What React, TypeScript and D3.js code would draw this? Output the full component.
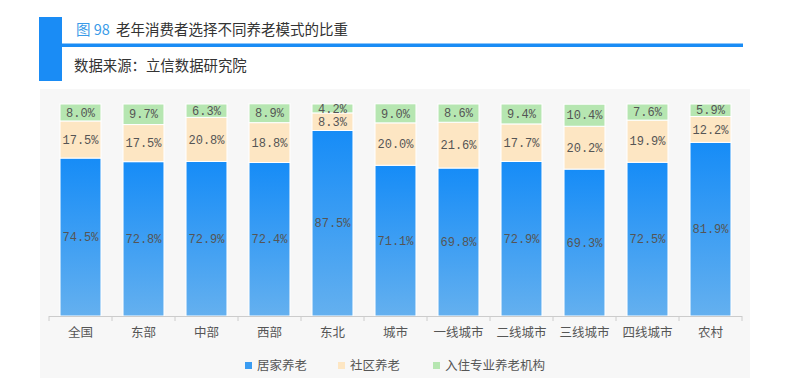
import React from "react";
import * as d3 from "d3";

const categories = ["全国", "东部", "中部", "西部", "东北", "城市", "一线城市", "二线城市", "三线城市", "四线城市", "农村"];
const homeCare = [74.5, 72.8, 72.9, 72.4, 87.5, 71.1, 69.8, 72.9, 69.3, 72.5, 81.9];
const communityCare = [17.5, 17.5, 20.8, 18.8, 8.3, 20.0, 21.6, 17.7, 20.2, 19.9, 12.2];
const institutionCare = [8.0, 9.7, 6.3, 8.9, 4.2, 9.0, 8.6, 9.4, 10.4, 7.6, 5.9];
const seriesNames = ["居家养老", "社区养老", "入住专业养老机构"];
const yTicks = [0, 100];

const W = 812, H = 388;
const labelFont = "'Liberation Mono', 'Noto Sans CJK SC', monospace";
const cjkFont = "'Noto Sans CJK SC', sans-serif";

export default function App() {
  const x = d3.scaleBand<string>().domain(categories).range([49, 742]).paddingInner(0.35).paddingOuter(0.175);
  const y = d3.scaleLinear().domain([yTicks[0], yTicks[1]]).range([316, 104]);
  const series = [homeCare, communityCare, institutionCare];
  const fills = ["url(#blueGrad)", "#fde6c3", "#b6e6b1"];

  const segs: any[] = [];
  categories.forEach((c, i) => {
    let acc = 0;
    series.forEach((s, k) => {
      const v = s[i];
      segs.push({ c, k, v, y0: acc, y1: acc + v });
      acc += v;
    });
  });

  const legendX = [245, 338, 433];

  return (
    <svg width={W} height={H} style={{ position: "absolute", left: 0, top: 0, background: "#fff" }}>
      <defs>
        <linearGradient id="blueGrad" x1="0" y1="0" x2="0" y2="1">
          <stop offset="0%" stopColor="#168cf7" />
          <stop offset="100%" stopColor="#64b0ef" />
        </linearGradient>
      </defs>
      {/* header */}
      <rect x={39} y={17} width={23} height={64} fill="#1a8cf5" />
      <rect x={62} y={43.5} width={681} height={3.5} fill="#1a8cf5" />
      <text x={76} y={35} fontFamily={cjkFont} fontSize={14.5} fill="#3a9be8">图 98</text>
      <text x={116} y={35} fontFamily={cjkFont} fontSize={14.5} fill="#333">老年消费者选择不同养老模式的比重</text>
      <text x={74} y={71} fontFamily={cjkFont} fontSize={14.4} fill="#333">数据来源：立信数据研究院</text>
      {/* plot background */}
      <rect x={40} y={89} width={710} height={289} fill="#f7f7f7" />
      {segs.map((d, i) => (
        <g key={i}>
          <rect x={x(d.c)} y={y(d.y1)} width={x.bandwidth()} height={y(d.y0) - y(d.y1)} fill={fills[d.k]} stroke="#fff" strokeWidth={1} />
          <text x={(x(d.c) as number) + x.bandwidth() / 2} y={(y(d.y0) + y(d.y1)) / 2} dy="0.35em" textAnchor="middle"
            fontFamily={labelFont} fontSize={12} fill="#555">{d.v.toFixed(1)}%</text>
        </g>
      ))}
      {/* axis */}
      <line x1={49} x2={742} y1={316.5} y2={316.5} stroke="#ccc" />
      {categories.map((c, i) => (
        <line key={"t" + i} x1={49 + i * x.step()} x2={49 + i * x.step()} y1={316} y2={321} stroke="#ccc" />
      ))}
      <line x1={742} x2={742} y1={316} y2={321} stroke="#ccc" />
      {categories.map((c) => (
        <text key={c} x={(x(c) as number) + x.bandwidth() / 2} y={337} textAnchor="middle" fontFamily={cjkFont} fontSize={12.5} fill="#555">{c}</text>
      ))}
      {/* legend */}
      {seriesNames.map((n, k) => (
        <g key={n}>
          <rect x={legendX[k]} y={362} width={7} height={7} fill={k === 0 ? "#3a9cf2" : fills[k]} />
          <text x={legendX[k] + 12} y={370} fontFamily={cjkFont} fontSize={12.5} fill="#555">{n}</text>
        </g>
      ))}
    </svg>
  );
}
